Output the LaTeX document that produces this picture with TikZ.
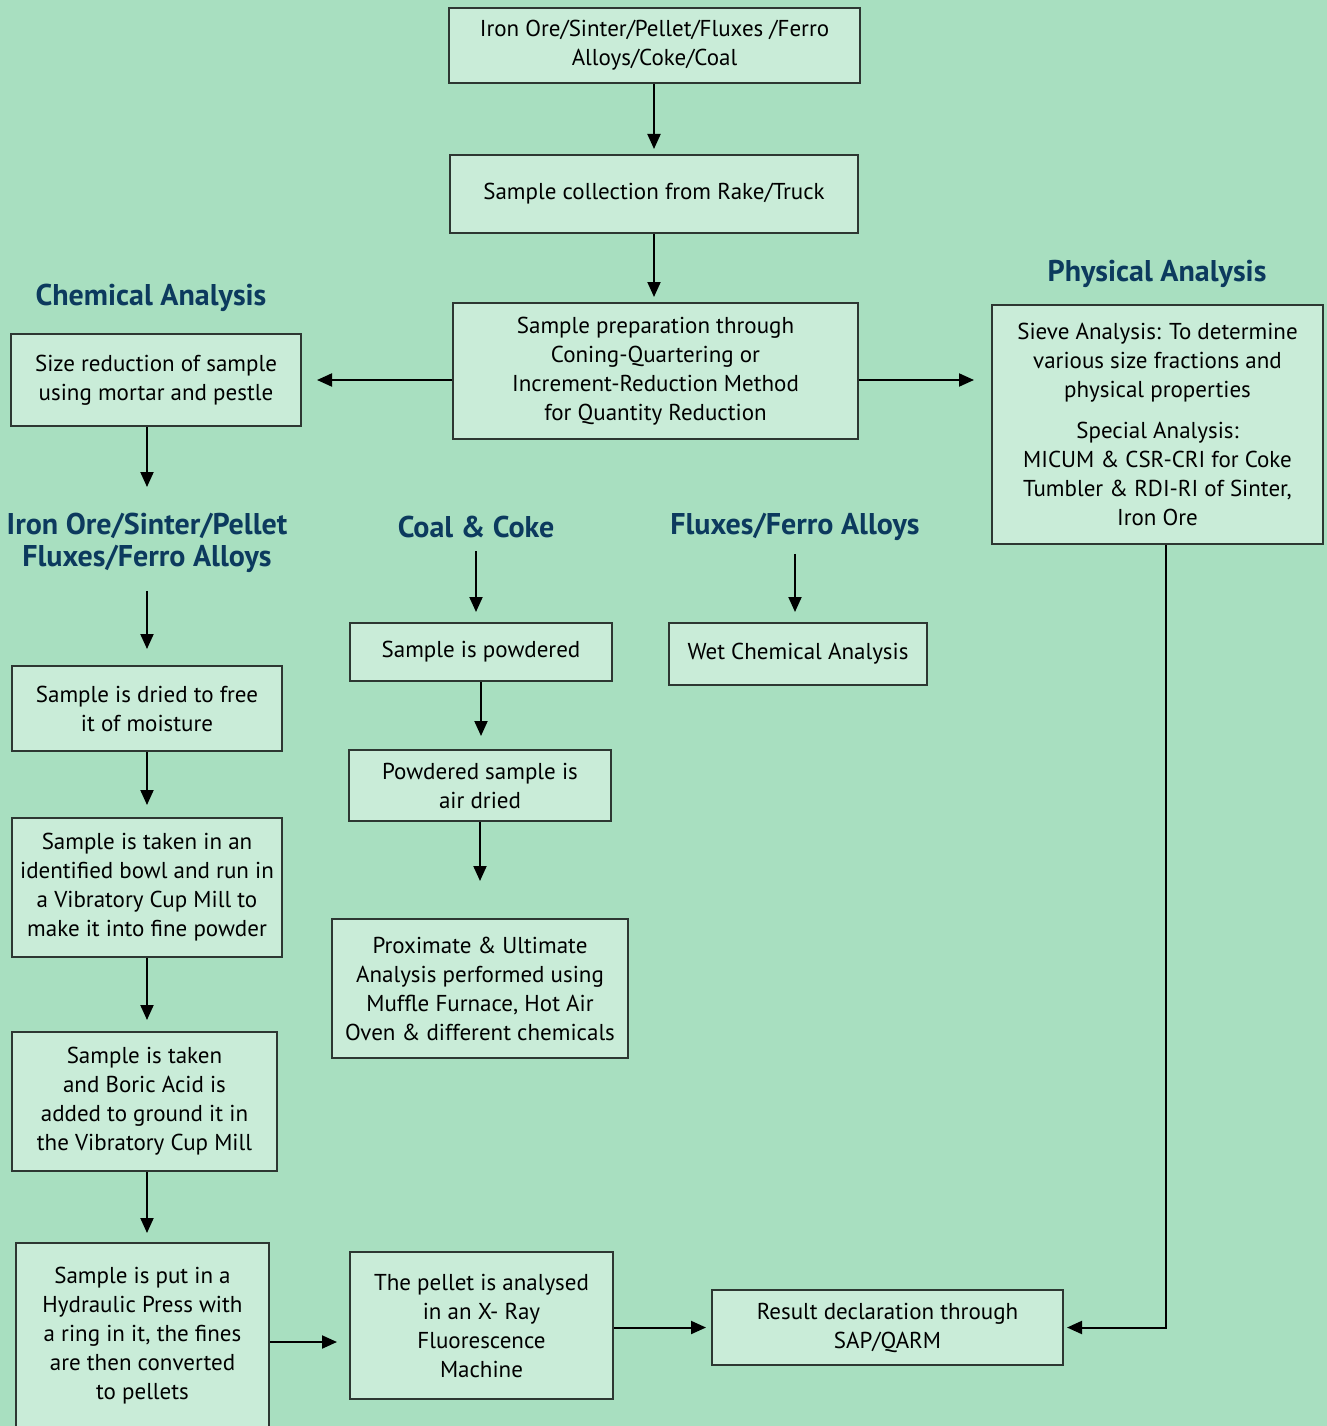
\documentclass[tikz,border=0pt]{standalone}
\usepackage{fontspec}
\setmainfont{PT Sans}
\usetikzlibrary{arrows.meta}
\definecolor{bggreen}{RGB}{168,223,192}
\definecolor{boxfill}{RGB}{201,236,216}
\definecolor{boxline}{RGB}{45,55,50}
\definecolor{headblue}{RGB}{12,58,94}
\begin{document}
\begin{tikzpicture}[x=1pt, y=-1pt,
        stage/.style={draw=boxline, fill=boxfill, line width=2pt, align=center, inner sep=0pt, font=\fontsize{23}{29}\selectfont},
        heading/.style={text=headblue, align=center, inner sep=0pt, font=\fontsize{30}{32}\selectfont\bfseries},
        flow/.style={-{Triangle[length=15pt,width=13pt]}, line width=2pt, shorten >=#1},
        flow/.default=6pt]
        \path[use as bounding box, fill=bggreen] (0,0) rectangle (1327,1426);

        \node[stage, minimum width=411, minimum height=75] (source) at (654.5,45.5) {Iron Ore/Sinter/Pellet/Fluxes /Ferro\\Alloys/Coke/Coal};
        \node[stage, minimum width=408, minimum height=78] (collect) at (654,194) {Sample collection from Rake/Truck};
        \node[stage, minimum width=405, minimum height=136] (prep) at (655.5,371) {Sample preparation through\\Coning-Quartering or\\Increment-Reduction Method\\for Quantity Reduction};

        \node[heading] (chem) at (151,298) {Chemical Analysis};
        \node[heading] (phystitle) at (1157,274) {Physical Analysis};
        \node[stage, minimum width=290, minimum height=92] (size) at (156,380) {Size reduction of sample\\using mortar and pestle};
        \node[stage, minimum width=331, minimum height=239] (phys) at (1157.5,424.5) {Sieve Analysis: To determine\\various size fractions and\\physical properties\\[12pt]Special Analysis:\\MICUM \& CSR-CRI for Coke\\Tumbler \& RDI-RI of Sinter,\\Iron Ore};

        \node[heading] (iron) at (147,543) {Iron Ore/Sinter/Pellet\\Fluxes/Ferro Alloys};
        \node[heading] (coal) at (476,527) {Coal \& Coke};
        \node[heading] (flux) at (795,527) {Fluxes/Ferro Alloys};

        \node[stage, minimum width=270, minimum height=85] (dried) at (147,708.5) {Sample is dried to free\\it of moisture};
        \node[stage, minimum width=270, minimum height=139] (bowl) at (147,887.5) {Sample is taken in an\\identified bowl and run in\\a Vibratory Cup Mill to\\make it into fine powder};
        \node[stage, minimum width=265, minimum height=139] (boric) at (144.5,1101.5) {Sample is taken\\and Boric Acid is\\added to ground it in\\the Vibratory Cup Mill};
        \node[stage, minimum width=253, minimum height=209] (press) at (142.5,1347.5) {Sample is put in a\\Hydraulic Press with\\a ring in it, the fines\\are then converted\\to pellets\\\mbox{}};
        \node[stage, minimum width=263, minimum height=147] (xrf) at (481.5,1325.5) {The pellet is analysed\\in an X- Ray\\Fluorescence\\Machine};
        \node[stage, minimum width=351, minimum height=75] (result) at (887.5,1327.5) {Result declaration through\\SAP/QARM};

        \node[stage, minimum width=262, minimum height=58] (powder) at (481,652) {Sample is powdered};
        \node[stage, minimum width=262, minimum height=71] (airdry) at (480,785.5) {Powdered sample is\\air dried};
        \node[stage, minimum width=296, minimum height=139] (prox) at (480,988.5) {Proximate \& Ultimate\\Analysis performed using\\Muffle Furnace, Hot Air\\Oven \& different chemicals};
        \node[stage, minimum width=258, minimum height=62] (wet) at (798,654) {Wet Chemical Analysis};

        \draw[flow=5pt] (collect.north |- source.south) -- (collect.north);
        \draw[flow=5pt] (collect.south) -- (collect.south |- prep.north);
        \draw[flow=15pt] (prep.west |- size.east) -- (size.east);
        \draw[flow=17pt] (prep.east |- size.east) -- (phys.west |- size.east);
        \draw[flow=26pt] (iron |- size.south) -- (iron.north);
        \draw[flow=16pt, shorten <=18pt] (iron.south) -- (iron |- dried.north);
        \draw[flow=12pt] (iron |- dried.south) -- (iron |- bowl.north);
        \draw[flow=11pt] (iron |- bowl.south) -- (iron |- boric.north);
        \draw[flow=9pt] (iron |- boric.south) -- (iron |- press.north);
        \draw[flow=12pt] ([yshift=5.5pt]press.east) -- ([yshift=5.5pt]press.east -| xrf.west);
        \draw[flow=5pt] (xrf.east |- result.west) -- (result.west);
        \draw[flow=3pt] ([xshift=8pt]phys.south) |- (result.east);

        \draw[flow=10pt, shorten <=13pt] (coal.south) -- (coal |- powder.north);
        \draw[flow=13pt] (powder.south) -- (powder.south |- airdry.north);
        \draw[flow=37pt] (airdry.south) -- (airdry.south |- prox.north);
        \draw[flow=10pt, shorten <=13pt] (flux.south) -- (flux |- wet.north);
    \end{tikzpicture}
\end{document}
